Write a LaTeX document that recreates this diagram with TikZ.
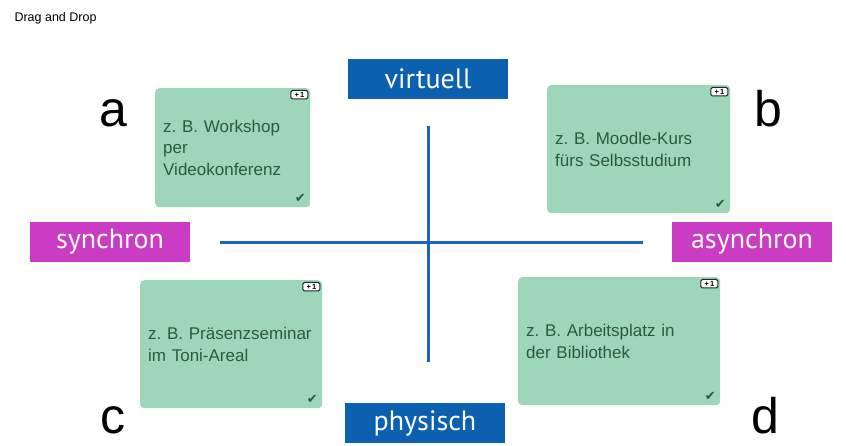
\documentclass[tikz,border=0pt]{standalone}
\usepackage{fontspec}
\setmainfont{Liberation Sans}
\newfontfamily\labelfont{PT Sans}
\newfontfamily\symbfont{DejaVu Sans}
\definecolor{cardgreen}{HTML}{9ED6B9}
\definecolor{cardtext}{HTML}{2B5B3C}
\definecolor{axisblue}{HTML}{0B60B0}
\definecolor{linesblue}{HTML}{1E64BE}
\definecolor{axismagenta}{HTML}{C93CC3}
\frenchspacing
\hyphenpenalty=10000
\tikzset{
    card/.style={fill=cardgreen, rounded corners=4pt, anchor=north west, align=left,
        inner xsep=8pt, text=cardtext, font=\fontsize{17}{21.5}\selectfont},
    axislabel/.style={minimum width=160pt, minimum height=40pt, inner sep=0pt,
        text=white, font=\labelfont\fontsize{28}{32}\selectfont},
    corner/.style={anchor=base, font=\fontsize{50}{60}\selectfont},
    badge/.style={draw=black!85, fill=white, rounded corners=1.5pt, line width=1pt,
        inner sep=0pt, minimum width=17pt, minimum height=8.5pt,
        font=\bfseries\fontsize{7.5}{7.5}\selectfont, anchor=north east},
    tick/.style={text=cardtext, font=\symbfont\fontsize{13}{13}\selectfont},
}

\begin{document}
\begin{tikzpicture}[x=1pt, y=-1pt]
    \useasboundingbox (0,0) rectangle (846,446);
    \node[anchor=west, font=\fontsize{12.5}{14}\selectfont] (title) at (11,18) {Drag and Drop};

    % axes
    \coordinate (left) at (220,243);
    \coordinate (right) at (643,243);
    \coordinate (top) at (428,126);
    \coordinate (bottom) at (428,362);
    \draw[linesblue, line width=3pt] (left) -- (right);
    \draw[linesblue, line width=3pt] (top) -- (bottom);

    \node[axislabel, fill=axisblue] (virtuell) at (428,79) {virtuell};
    \node[axislabel, fill=axisblue] (physisch) at (425,423) {physisch};
    \node[axislabel, fill=axismagenta] (synchron) at (110,242) {synchron};
    \node[axislabel, fill=axismagenta] (asynchron) at (752,242) {asynchron};

    % cards
    \node[card, minimum width=155pt, minimum height=119pt, text width=139pt] (cA) at (155,88)
        {z. B. Workshop\\per\\Videokonferenz};
    \node[card, minimum width=183pt, minimum height=128pt, text width=167pt] (cB) at (547,85)
        {z. B. Moodle-Kurs\\fürs Selbsstudium};
    \node[card, minimum width=182pt, minimum height=128pt, text width=166pt] (cC) at (140,280)
        {z. B. Präsenzseminar\\im Toni-Areal};
    \node[card, minimum width=202pt, minimum height=128pt, text width=186pt] (cD) at (518,277)
        {z. B. Arbeitsplatz in\\der Bibliothek};

    \foreach \c in {cA,cB,cC,cD} {
        \node[badge] (\c-plus) at ([xshift=-2pt,yshift=-2pt]\c.north east) {+\,1};
        \node[tick] (\c-tick) at ([xshift=-10pt,yshift=9pt]\c.south east) {✔};
    }

    % corner letters
    \node[corner] (a) at (113,127) {a};
    \node[corner] (b) at (768,127) {b};
    \node[corner] (c) at (113,433) {c};
    \node[corner] (d) at (765,433) {d};
\end{tikzpicture}
\end{document}
